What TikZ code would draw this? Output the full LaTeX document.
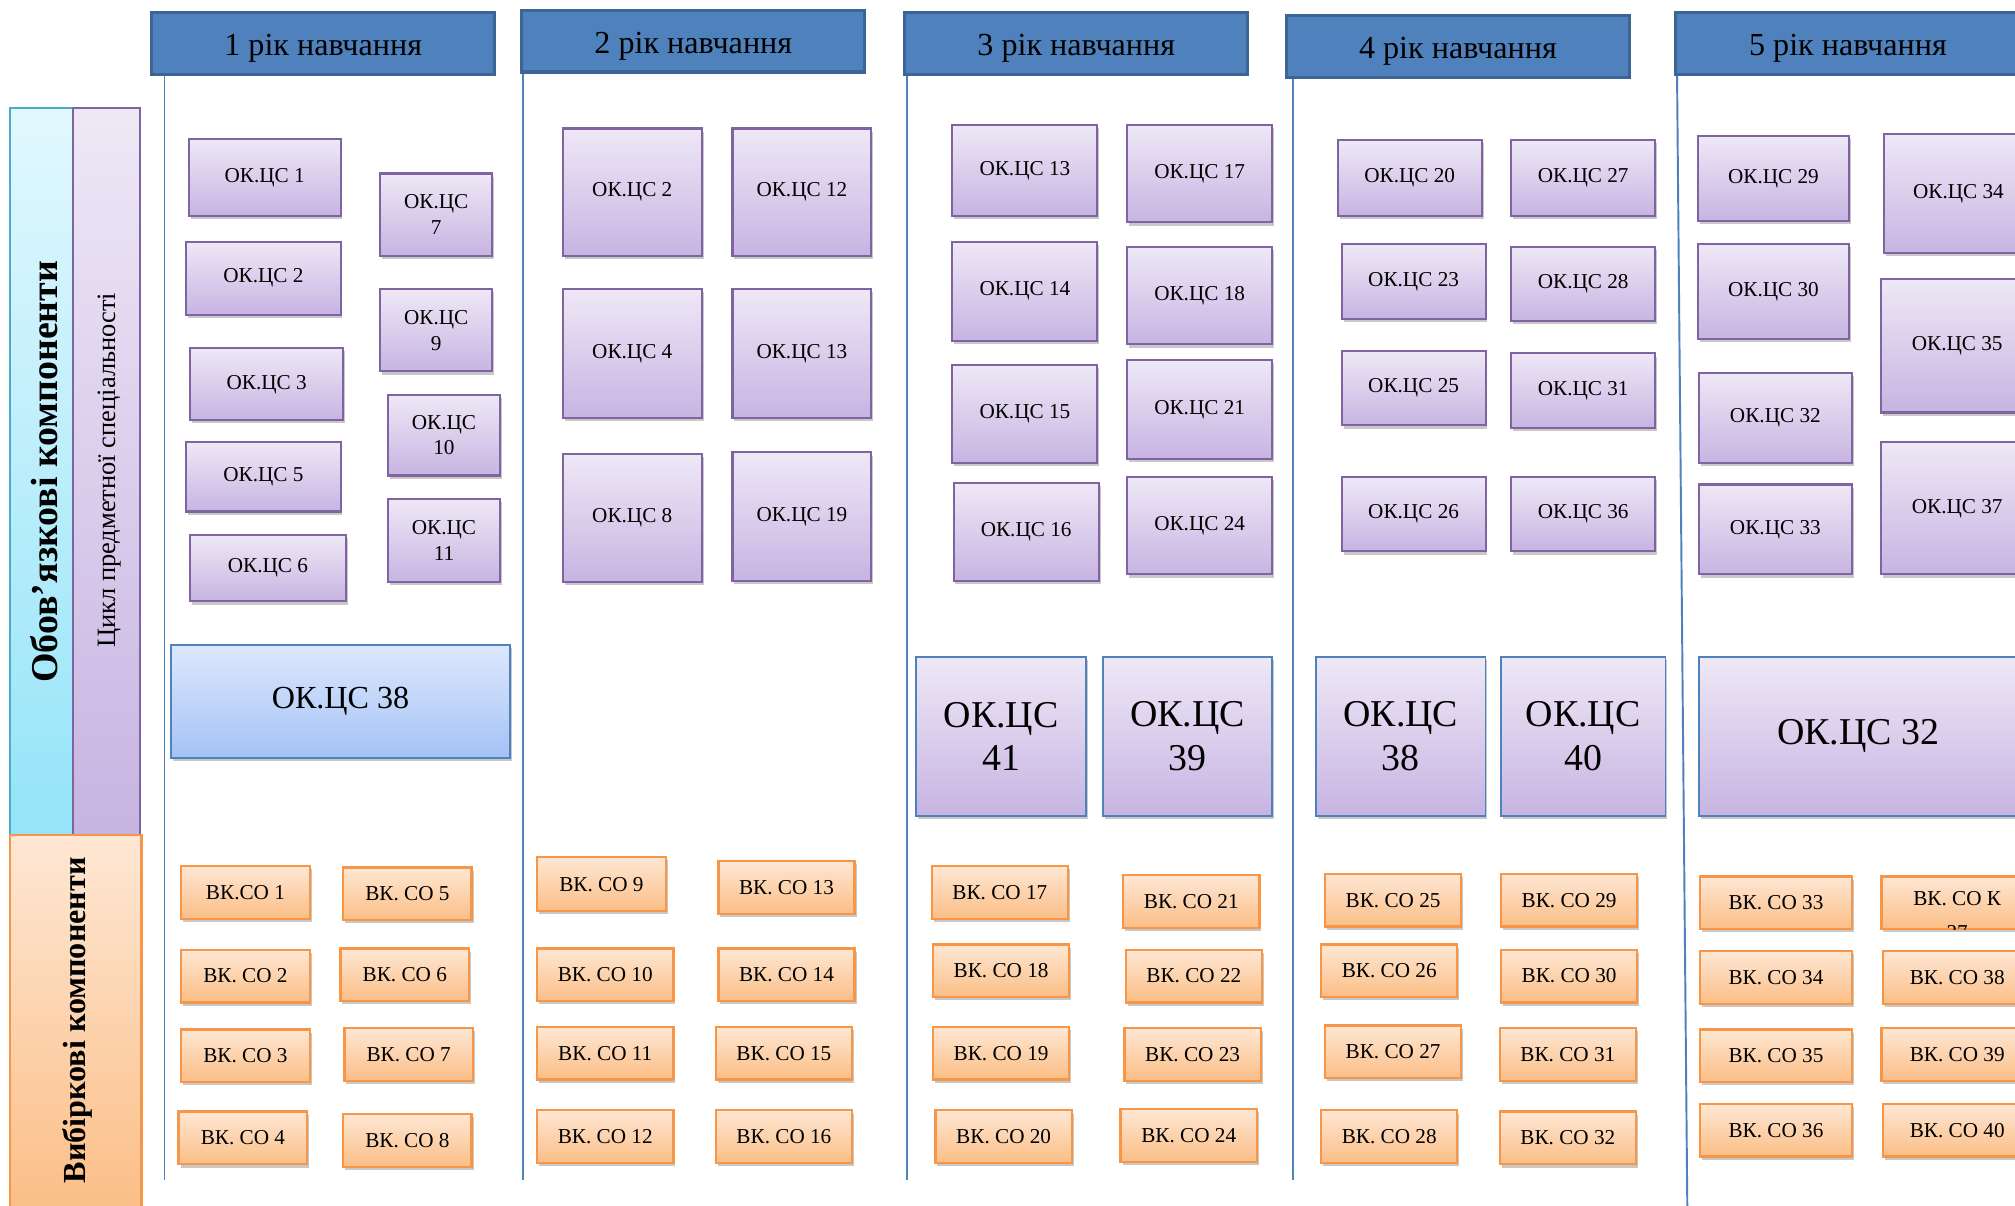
\documentclass[tikz,border=0pt]{standalone}
\usepackage{fontspec}
\setmainfont{Liberation Serif}
\usetikzlibrary{shadows}
\definecolor{okTop}{HTML}{EEE8F6}
\definecolor{okBot}{HTML}{C7B4E2}
\definecolor{okBorder}{HTML}{8064A2}
\definecolor{blTop}{HTML}{DDE8FC}
\definecolor{blBot}{HTML}{A4C2F6}
\definecolor{blBorder}{HTML}{4F81BD}
\definecolor{vkTop}{HTML}{FEE7D4}
\definecolor{vkBot}{HTML}{FBBE86}
\definecolor{vkBorder}{HTML}{F79646}
\definecolor{cyTop}{HTML}{E2F8FE}
\definecolor{cyBot}{HTML}{94E4F8}
\definecolor{cyBorder}{HTML}{4BACC6}
\definecolor{hdrFill}{HTML}{4F81BD}
\definecolor{hdrDark}{HTML}{3C6494}
\tikzset{
  base/.style={rectangle, inner sep=0pt, outer sep=0pt, align=center, text=black},
  shad/.style={drop shadow={shadow xshift=1.5pt, shadow yshift=-2.5pt, opacity=0.3, fill=black!70}},
  okbox/.style={base, shad, top color=okTop, bottom color=okBot, draw=okBorder, line width=1.6pt, font=\fontsize{16.5}{20}\selectfont},
  okbig/.style={base, shad, top color=okTop, bottom color=okBot, draw=blBorder, line width=1.4pt, font=\fontsize{29.5}{34}\selectfont},
  blbox/.style={base, shad, top color=blTop, bottom color=blBot, draw=blBorder, line width=1.4pt, font=\fontsize{25}{30}\selectfont},
  vkbox/.style={base, shad, top color=vkTop, bottom color=vkBot, draw=vkBorder, line width=1.8pt, font=\fontsize{16.5}{20}\selectfont},
  hdr/.style={base, fill=hdrFill, draw=hdrDark, line width=2.5pt, font=\fontsize{25}{29}\selectfont, text height=22pt, text depth=3pt},
  yline/.style={draw=blBorder, line width=1.5pt},
}
\newcommand\bx[7]{%
  \pgfmathsetmacro\bxw{#5-#3}%
  \pgfmathsetmacro\bxh{#6-#4}%
  \pgfmathsetmacro\bxcx{(#3+#5)/2}%
  \pgfmathsetmacro\bxcy{(#4+#6)/2}%
  \node[#1, minimum width=\bxw pt, minimum height=\bxh pt] (#2) at (\bxcx,\bxcy) {#7};}
\begin{document}
\begin{tikzpicture}[x=1pt, y=-1pt]
\useasboundingbox (0,0) rectangle (1568,938);
\clip (0,0) rectangle (1568,938);
\fill[white] (0,0) rectangle (1568,938);
% left side columns
\bx{base, top color=cyTop, bottom color=cyBot, draw=cyBorder, line width=1.4pt}{colA}{8}{84}{57}{650}{}
\bx{base, top color=okTop, bottom color=okBot, draw=okBorder, line width=1.6pt}{colB}{57}{84}{109}{650}{}
\bx{base, top color=vkTop, bottom color=vkBot, draw=vkBorder, line width=1.8pt}{colC}{8}{650}{110}{945}{}
\node[rotate=90, font=\fontsize{29.5}{32}\selectfont\bfseries] (tA) at (34,367) {Обов’язкові компоненти};
\node[rotate=90, font=\fontsize{20.6}{23}\selectfont] (tB) at (85,366) {Цикл предметної спеціальності};
\node[rotate=90, font=\fontsize{25}{28}\selectfont\bfseries] (tC) at (60,794) {Вибіркові компоненти};
% vertical year lines
\coordinate (l1a) at (128,58); \coordinate (l1b) at (128,918);
\coordinate (l2a) at (407,55); \coordinate (l2b) at (407,918);
\coordinate (l3a) at (706,58); \coordinate (l3b) at (706,918);
\coordinate (l4a) at (1006,60); \coordinate (l4b) at (1006,918);
\coordinate (l5a) at (1305,58); \coordinate (l5b) at (1313,940);
\draw[yline] (l1a) -- (l1b);
\draw[yline] (l2a) -- (l2b);
\draw[yline] (l3a) -- (l3b);
\draw[yline] (l4a) -- (l4b);
\draw[yline] (l5a) -- (l5b);
% headers
\bx{hdr}{h1}{118}{10}{385}{58}{1 рік навчання}
\bx{hdr}{h2}{406}{8}{673}{56}{2 рік навчання}
\bx{hdr}{h3}{704}{10}{971}{58}{3 рік навчання}
\bx{hdr}{h4}{1001}{12}{1268}{60}{4 рік навчання}
\bx{hdr}{h5}{1304}{10}{1572}{58}{5 рік навчання}
% year 1
\bx{okbox}{a1}{147}{108}{265}{168}{ОК.ЦС 1}
\bx{okbox}{a2}{145}{188}{265}{245}{ОК.ЦС 2}
\bx{okbox}{a3}{148}{271}{267}{327}{ОК.ЦС 3}
\bx{okbox}{a5}{145}{344}{265}{398}{ОК.ЦС 5}
\bx{okbox}{a6}{148}{416}{269}{468}{ОК.ЦС 6}
\bx{okbox}{a7}{296}{135}{383}{199}{ОК.ЦС\\7}
\bx{okbox}{a9}{296}{225}{383}{289}{ОК.ЦС\\9}
\bx{okbox}{a10}{302}{307}{389}{370}{ОК.ЦС\\10}
\bx{okbox}{a11}{302}{388}{389}{453}{ОК.ЦС\\11}
\bx{blbox}{a38}{133}{502}{397}{590}{ОК.ЦС 38}
% year 2
\bx{okbox}{b2}{438}{100}{546}{199}{ОК.ЦС 2}
\bx{okbox}{b12}{570}{100}{678}{199}{ОК.ЦС 12}
\bx{okbox}{b4}{438}{225}{546}{325}{ОК.ЦС 4}
\bx{okbox}{b13}{570}{225}{678}{325}{ОК.ЦС 13}
\bx{okbox}{b8}{438}{353}{546}{453}{ОК.ЦС 8}
\bx{okbox}{b19}{570}{352}{678}{452}{ОК.ЦС 19}
% year 3
\bx{okbox}{c13}{741}{97}{854}{168}{ОК.ЦС 13}
\bx{okbox}{c17}{877}{97}{990}{173}{ОК.ЦС 17}
\bx{okbox}{c14}{741}{188}{854}{265}{ОК.ЦС 14}
\bx{okbox}{c18}{877}{192}{990}{268}{ОК.ЦС 18}
\bx{okbox}{c15}{741}{284}{854}{360}{ОК.ЦС 15}
\bx{okbox}{c21}{877}{280}{990}{357}{ОК.ЦС 21}
\bx{okbox}{c16}{742}{376}{855}{452}{ОК.ЦС 16}
\bx{okbox}{c24}{877}{371}{990}{447}{ОК.ЦС 24}
\bx{okbig}{c41}{713}{511}{845}{635}{ОК.ЦС\\41}
\bx{okbig}{c39}{858}{511}{990}{635}{ОК.ЦС\\39}
% year 4
\bx{okbox}{d20}{1041}{109}{1153}{168}{ОК.ЦС 20}
\bx{okbox}{d27}{1176}{109}{1288}{168}{ОК.ЦС 27}
\bx{okbox}{d23}{1044}{190}{1156}{248}{ОК.ЦС 23}
\bx{okbox}{d28}{1176}{192}{1288}{250}{ОК.ЦС 28}
\bx{okbox}{d25}{1044}{273}{1156}{331}{ОК.ЦС 25}
\bx{okbox}{d31}{1176}{275}{1288}{333}{ОК.ЦС 31}
\bx{okbox}{d26}{1044}{371}{1156}{429}{ОК.ЦС 26}
\bx{okbox}{d36}{1176}{371}{1288}{429}{ОК.ЦС 36}
\bx{okbig}{d38}{1024}{511}{1156}{635}{ОК.ЦС\\38}
\bx{okbig}{d40}{1168}{511}{1296}{635}{ОК.ЦС\\40}
% year 5
\bx{okbox}{e29}{1321}{106}{1439}{172}{ОК.ЦС 29}
\bx{okbox}{e30}{1321}{190}{1439}{264}{ОК.ЦС 30}
\bx{okbox}{e32}{1322}{290}{1441}{360}{ОК.ЦС 32}
\bx{okbox}{e33}{1322}{377}{1441}{447}{ОК.ЦС 33}
\bx{okbox}{e34}{1466}{104}{1582}{197}{ОК.ЦС 34}
\bx{okbox}{e35}{1464}{217}{1582}{321}{ОК.ЦС 35}
\bx{okbox}{e37}{1464}{344}{1582}{447}{ОК.ЦС 37}
\bx{okbig, font=\fontsize{29.5}{34}\selectfont}{e32b}{1322}{511}{1570}{635}{ОК.ЦС 32}
% electives year 1
\bx{vkbox}{v1}{141}{674}{241}{715}{ВК.СО 1}
\bx{vkbox}{v5}{267}{675}{367}{716}{ВК. СО 5}
\bx{vkbox}{v2}{141}{739}{241}{780}{ВК. СО 2}
\bx{vkbox}{v6}{265}{738}{365}{779}{ВК. СО 6}
\bx{vkbox}{v3}{141}{801}{241}{842}{ВК. СО 3}
\bx{vkbox}{v7}{268}{800}{368}{841}{ВК. СО 7}
\bx{vkbox}{v4}{139}{865}{239}{906}{ВК. СО 4}
\bx{vkbox}{v8}{267}{867}{367}{908}{ВК. СО 8}
% electives year 2
\bx{vkbox}{v9}{418}{667}{518}{709}{ВК. СО 9}
\bx{vkbox}{v13}{559}{670}{665}{711}{ВК. СО 13}
\bx{vkbox}{v10}{418}{738}{524}{779}{ВК. СО 10}
\bx{vkbox}{v14}{559}{738}{665}{779}{ВК. СО 14}
\bx{vkbox}{v11}{418}{799}{524}{840}{ВК. СО 11}
\bx{vkbox}{v15}{557}{799}{663}{840}{ВК. СО 15}
\bx{vkbox}{v12}{418}{864}{524}{905}{ВК. СО 12}
\bx{vkbox}{v16}{557}{864}{663}{905}{ВК. СО 16}
% electives year 3
\bx{vkbox}{v17}{725}{674}{831}{715}{ВК. СО 17}
\bx{vkbox}{v21}{874}{681}{980}{722}{ВК. СО 21}
\bx{vkbox}{v18}{726}{735}{832}{776}{ВК. СО 18}
\bx{vkbox}{v22}{876}{739}{982}{780}{ВК. СО 22}
\bx{vkbox}{v19}{726}{799}{832}{840}{ВК. СО 19}
\bx{vkbox}{v23}{875}{800}{981}{841}{ВК. СО 23}
\bx{vkbox}{v20}{728}{864}{834}{905}{ВК. СО 20}
\bx{vkbox}{v24}{872}{863}{978}{904}{ВК. СО 24}
% electives year 4
\bx{vkbox}{v25}{1031}{680}{1137}{721}{ВК. СО 25}
\bx{vkbox}{v29}{1168}{680}{1274}{721}{ВК. СО 29}
\bx{vkbox}{v26}{1028}{735}{1134}{776}{ВК. СО 26}
\bx{vkbox}{v30}{1168}{739}{1274}{780}{ВК. СО 30}
\bx{vkbox}{v27}{1031}{798}{1137}{839}{ВК. СО 27}
\bx{vkbox}{v31}{1167}{800}{1273}{841}{ВК. СО 31}
\bx{vkbox}{v28}{1028}{864}{1134}{905}{ВК. СО 28}
\bx{vkbox}{v32}{1167}{865}{1273}{906}{ВК. СО 32}
% electives year 5
\bx{vkbox}{v33}{1323}{682}{1441}{723}{ВК. СО 33}
\bx{vkbox}{v37}{1464}{682}{1582}{723}{}
\node[font=\fontsize{16.5}{20}\selectfont] (v37t) at (1523,699) {ВК. СО К};
\begin{scope}
\clip (v37.south west) rectangle (v37.north east);
\node[font=\fontsize{16.5}{20}\selectfont, anchor=base] (v37n) at (1523,731) {37};
\end{scope}
\bx{vkbox}{v34}{1323}{740}{1441}{781}{ВК. СО 34}
\bx{vkbox}{v38}{1465}{740}{1581}{781}{ВК. СО 38}
\bx{vkbox}{v35}{1323}{801}{1441}{842}{ВК. СО 35}
\bx{vkbox}{v39}{1464}{800}{1582}{841}{ВК. СО 39}
\bx{vkbox}{v36}{1323}{859}{1441}{900}{ВК. СО 36}
\bx{vkbox}{v40}{1465}{859}{1581}{900}{ВК. СО 40}
\end{tikzpicture}
\end{document}
